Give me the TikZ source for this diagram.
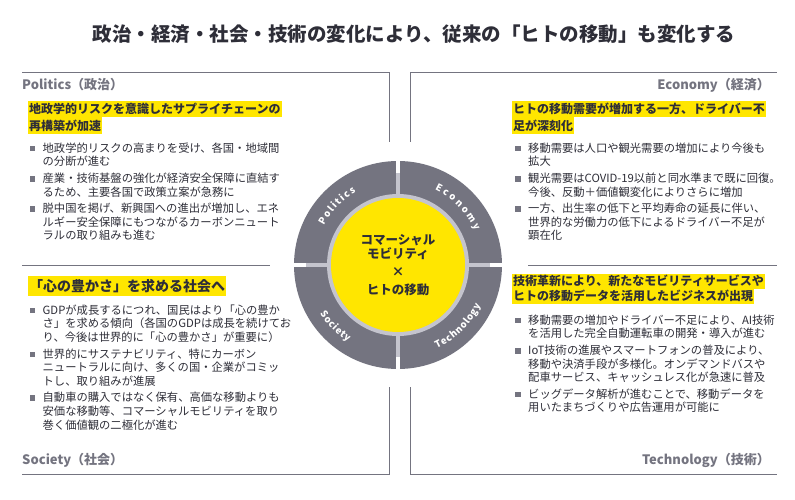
\documentclass[tikz,border=0pt]{standalone}
\usepackage{fontspec}
\setmainfont{Noto Sans CJK JP}
\usetikzlibrary{decorations.text}

\definecolor{eyyellow}{HTML}{FFE600}
\definecolor{eygray}{HTML}{747480}
\definecolor{eylight}{HTML}{C4C4CD}
\definecolor{eydark}{HTML}{2E2E38}

\newcommand\bul[1]{\par\hangindent=13pt\hangafter=1\noindent\makebox[13pt][l]{\textcolor{eygray}{\rule[1pt]{5.5pt}{5.5pt}}}#1\par\vspace{3pt}}

\tikzset{
  head/.style={font=\bfseries\fontsize{13}{15}\selectfont, text=eygray, inner sep=0pt},
  hl/.style={fill=eyyellow, text=eydark, anchor=west, inner xsep=1pt, inner ysep=0pt, minimum height=16.5pt, font=\bfseries\fontsize{12}{14}\selectfont},
  bullets/.style={anchor=north west, inner sep=0pt, text width=280pt, text=eydark, font=\fontsize{11.3}{13.6}\selectfont},
  frame/.style={draw=eygray, line width=0.8pt},
  hub/.style={align=center, text=eydark, font=\bfseries\fontsize{12.5}{14}\selectfont},
  ringtext/.style={decorate, decoration={text along path, text align=fit to path, text={|\color{white}\bfseries\fontsize{9.5}{11}\selectfont|#1}}}
}

\begin{document}
\begin{tikzpicture}[x=1pt,y=1pt]
\fill[white] (0,0) rectangle (795,-500);
\useasboundingbox (0,0) rectangle (795,-500);

\draw (414,-34) node (title) [font=\bfseries\fontsize{19.5}{22}\selectfont, text=eydark] {政治・経済・社会・技術の変化により、従来の「ヒトの移動」も変化する};

\draw[frame] (389,-142) -- (389,-72) -- (22,-72);
\draw[frame] (410,-142) -- (410,-72) -- (777,-72);
\draw[frame] (22,-265) -- (270,-265);
\draw[frame] (528,-265) -- (777,-265);
\draw[frame] (389,-387) -- (389,-474) -- (22,-474);
\draw[frame] (410,-387) -- (410,-474) -- (777,-474);

\draw (22,-85)  node (polhead) [head, anchor=west] {Politics（政治）};
\draw (28,-109) node (polhl1) [hl] {地政学的リスクを意識したサプライチェーンの};
\draw (28,-125.5) node (polhl2) [hl] {再構築が加速};
\draw (29.5,-138.5) node (polbul) [bullets] {\bul{地政学的リスクの高まりを受け、各国・地域間\newline の分断が進む}\bul{産業・技術基盤の強化が経済安全保障に直結す\newline るため、主要各国で政策立案が急務に}\bul{脱中国を掲げ、新興国への進出が増加し、エネ\newline ルギー安全保障にもつながるカーボンニュート\newline ラルの取り組みも進む}};

\draw (770,-85)  node (ecohead) [head, anchor=east] {Economy（経済）};
\draw (512,-109) node (ecohl1) [hl] {ヒトの移動需要が増加する一方、ドライバー不};
\draw (512,-125.5) node (ecohl2) [hl] {足が深刻化};
\draw (515,-138.5) node (ecobul) [bullets] {\bul{移動需要は人口や観光需要の増加により今後も\newline 拡大}\bul{観光需要はCOVID-19以前と同水準まで既に回復。\newline 今後、反動＋価値観変化によりさらに増加}\bul{一方、出生率の低下と平均寿命の延長に伴い、\newline 世界的な労働力の低下によるドライバー不足が\newline 顕在化}};

\draw (28,-286) node (sochl) [hl, minimum height=20pt, font=\bfseries\fontsize{14}{16}\selectfont] {「心の豊かさ」を求める社会へ};
\draw (29.5,-300.5) node (socbul) [bullets] {\bul{GDPが成長するにつれ、国民はより「心の豊か\newline さ」を求める傾向（各国のGDPは成長を続けてお\newline り、今後は世界的に「心の豊かさ」が重要に）}\bul{世界的にサステナビリティ、特にカーボン\newline ニュートラルに向け、多くの国・企業がコミッ\newline トし、取り組みが進展}\bul{自動車の購入ではなく保有、高価な移動よりも\newline 安価な移動等、コマーシャルモビリティを取り\newline 巻く価値観の二極化が進む}};
\draw (22,-460) node (sochead) [head, anchor=west] {Society（社会）};

\draw (512,-281) node (techhl1) [hl, minimum height=15pt] {技術革新により、新たなモビリティサービスや};
\draw (512,-296) node (techhl2) [hl, minimum height=15pt] {ヒトの移動データを活用したビジネスが出現};
\draw (515,-310.5) node (techbul) [bullets] {\bul{移動需要の増加やドライバー不足により、AI技術\newline を活用した完全自動運転車の開発・導入が進む}\bul{IoT技術の進展やスマートフォンの普及により、\newline 移動や決済手段が多様化。オンデマンドバスや\newline 配車サービス、キャッシュレス化が急速に普及}\bul{ビッグデータ解析が進むことで、移動データを\newline 用いたまちづくりや広告運用が可能に}};
\draw (770,-460) node (techhead) [head, anchor=east] {Technology（技術）};

\coordinate (c) at (398,-265);
\fill[eygray] (c) circle[radius=104];
\fill[white] (c) ++(-2,-106) rectangle ++(4,212);
\fill[white] (c) ++(-106,-2) rectangle ++(212,4);
\fill[eylight] (c) ++(-2,-92) rectangle ++(4,184);
\fill[eylight] (c) ++(-92,-2) rectangle ++(184,4);
\fill[eylight] (c) circle[radius=71];
\fill[eyyellow] (c) circle[radius=67];
\draw (c) node (core) [hub] {コマーシャル\\モビリティ\\[4pt]×\\[4pt]ヒトの移動};

\path[ringtext=Politics] (c) ++(152:84) arc[start angle=152, end angle=120, radius=84];
\path[ringtext=Economy] (c) ++(64:84) arc[start angle=64, end angle=24, radius=84];
\path[ringtext=Society] (c) ++(212:92) arc[start angle=212, end angle=237, radius=92];
\path[ringtext=Technology] (c) ++(295:92) arc[start angle=295, end angle=334, radius=92];
\end{tikzpicture}
\end{document}
